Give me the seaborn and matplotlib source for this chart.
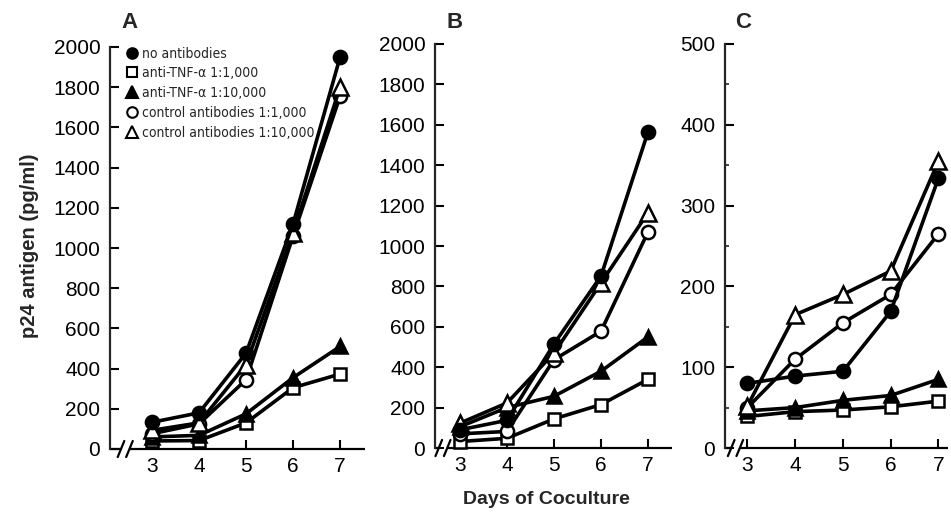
import numpy as np
import pandas as pd
import matplotlib
matplotlib.use("Agg")
import matplotlib.pyplot as plt
import matplotlib.transforms as mtrans
from matplotlib.lines import Line2D
from matplotlib.ticker import MultipleLocator
from matplotlib.font_manager import FontProperties
import seaborn as sns

# ---------------- data ----------------
days = [3, 4, 5, 6, 7]
series_names = ["no antibodies", "anti-TNF-\u03b1 1:1,000", "anti-TNF-\u03b1 1:10,000",
                "control antibodies 1:1,000", "control antibodies 1:10,000"]

a_no_ab = [133, 180, 477, 1120, 1950]
a_tnf_1k = [40, 42, 130, 305, 373]
a_tnf_10k = [60, 68, 175, 355, 510]
a_ctrl_1k = [76, 125, 345, 1060, 1755]
a_ctrl_10k = [93, 130, 420, 1075, 1800]

b_no_ab = [90, 137, 515, 851, 1565]
b_tnf_1k = [32, 48, 144, 215, 340]
b_tnf_10k = [105, 200, 256, 380, 550]
b_ctrl_1k = [70, 82, 437, 578, 1070]
b_ctrl_10k = [123, 223, 470, 817, 1165]

c_no_ab = [80, 89, 95, 169, 334]
c_tnf_1k = [39, 45, 47, 51, 58]
c_tnf_10k = [46, 50, 59, 65, 85]
c_ctrl_1k = [50, 110, 155, 190, 265]
c_ctrl_10k = [52, 165, 190, 219, 355]

panels = {
    "A": [a_no_ab, a_tnf_1k, a_tnf_10k, a_ctrl_1k, a_ctrl_10k],
    "B": [b_no_ab, b_tnf_1k, b_tnf_10k, b_ctrl_1k, b_ctrl_10k],
    "C": [c_no_ab, c_tnf_1k, c_tnf_10k, c_ctrl_1k, c_ctrl_10k],
}

rows = []
for p, vals in panels.items():
    for name, v in zip(series_names, vals):
        for d, y in zip(days, v):
            rows.append({"panel": p, "series": name, "day": d, "p24": y})
df = pd.DataFrame(rows)

# ---------------- style ----------------
sns.set_theme(style="ticks")
plt.rcParams["font.family"] = ["Liberation Sans", "DejaVu Sans"]

styles = {
    series_names[0]: dict(marker="o", mfc="black", ms=9.5),
    series_names[1]: dict(marker="s", mfc="white", ms=9),
    series_names[2]: dict(marker="^", mfc="black", ms=10),
    series_names[3]: dict(marker="o", mfc="white", ms=9.5),
    series_names[4]: dict(marker="^", mfc="white", ms=11),
}
draw_order = [series_names[1], series_names[2], series_names[3], series_names[4], series_names[0]]

fig = plt.figure(figsize=(9.51, 5.2), dpi=100)
W, H = 951, 520
# (left px, right px, top px, bottom px, xmin, xmax, ymax, break_x)
layout = {
    "A": (110, 365, 47, 449, 2.106, 7.53, 2000, 2.43),
    "B": (435, 672, 44, 448, 2.47, 7.51, 2000, 2.64),
    "C": (725, 948, 44, 448, 2.53, 7.20, 500, 2.75),
}

legend_prop = FontProperties(family="DejaVu Sans", stretch="condensed", size=10)

for p, (l, r, t, b, xmin, xmax, ymax, brk) in layout.items():
    ax = fig.add_axes([l / W, (H - b) / H, (r - l) / W, (b - t) / H])
    sub = df[df.panel == p]
    for name in draw_order:
        s = sub[sub.series == name]
        st = styles[name]
        sns.lineplot(data=s, x="day", y="p24", ax=ax, color="black", lw=2.6,
                     marker=st["marker"], markersize=st["ms"],
                     markerfacecolor=st["mfc"], markeredgecolor="black",
                     markeredgewidth=1.8, estimator=None, errorbar=None,
                     legend=False, clip_on=False, zorder=3)
    ax.set_xlim(xmin, xmax)
    ax.set_ylim(0, ymax)
    ax.set_xticks(days)
    if p == "C":
        ax.yaxis.set_major_locator(MultipleLocator(100))
        ax.yaxis.set_minor_locator(MultipleLocator(50))
    else:
        ax.yaxis.set_major_locator(MultipleLocator(200))
    ax.set_xlabel("")
    ax.set_ylabel("")
    for side in ["top", "right", "bottom"]:
        ax.spines[side].set_visible(False)
    ax.spines["left"].set_linewidth(1.6)
    ax.tick_params(axis="both", which="major", direction="in", length=6.5,
                   width=1.5, labelsize=15, colors="black")
    ax.tick_params(axis="y", which="major", pad=7)
    ax.tick_params(axis="x", which="major", pad=6)
    ax.tick_params(axis="y", which="minor", direction="in", length=3, width=1.2)

    # broken x axis drawn by hand
    tr = mtrans.blended_transform_factory(ax.transData, ax.transAxes)
    g = 0.09
    ax.plot([xmin, brk - g], [0, 0], transform=tr, color="black", lw=1.6,
            clip_on=False, solid_capstyle="butt")
    ax.plot([brk + g, xmax], [0, 0], transform=tr, color="black", lw=1.6,
            clip_on=False, solid_capstyle="butt")
    for xx in (brk - g, brk + g):
        ax.plot([xx - 0.07, xx + 0.07], [-0.02, 0.02], transform=tr,
                color="black", lw=1.6, clip_on=False)

    if p == "A":
        handles = [Line2D([], [], linestyle="none", marker=styles[n]["marker"],
                          markersize=styles[n]["ms"] * 0.8,
                          markerfacecolor=styles[n]["mfc"], markeredgecolor="black",
                          markeredgewidth=1.5) for n in series_names]
        ax.legend(handles, series_names, loc="upper left",
                  bbox_to_anchor=(0.05, 1.015), frameon=False,
                  handlelength=0.6, handletextpad=0.35, labelspacing=0.42,
                  borderaxespad=0.0, prop=legend_prop)

fig.text(130 / W, 1 - 22 / H, "A", fontsize=16, fontweight="bold", ha="center", va="center")
fig.text(455 / W, 1 - 22 / H, "B", fontsize=16, fontweight="bold", ha="center", va="center")
fig.text(743 / W, 1 - 22 / H, "C", fontsize=16, fontweight="bold", ha="center", va="center")
fig.text(30 / W, 1 - 246 / H, "p24 antigen (pg/ml)", rotation=90, fontsize=14.5,
         fontweight="bold", ha="center", va="center")
fig.text(546 / W, 1 - 500 / H, "Days of Coculture", fontsize=14,
         fontweight="bold", ha="center", va="center")

fig.savefig("out.png", dpi=100, facecolor="white")
